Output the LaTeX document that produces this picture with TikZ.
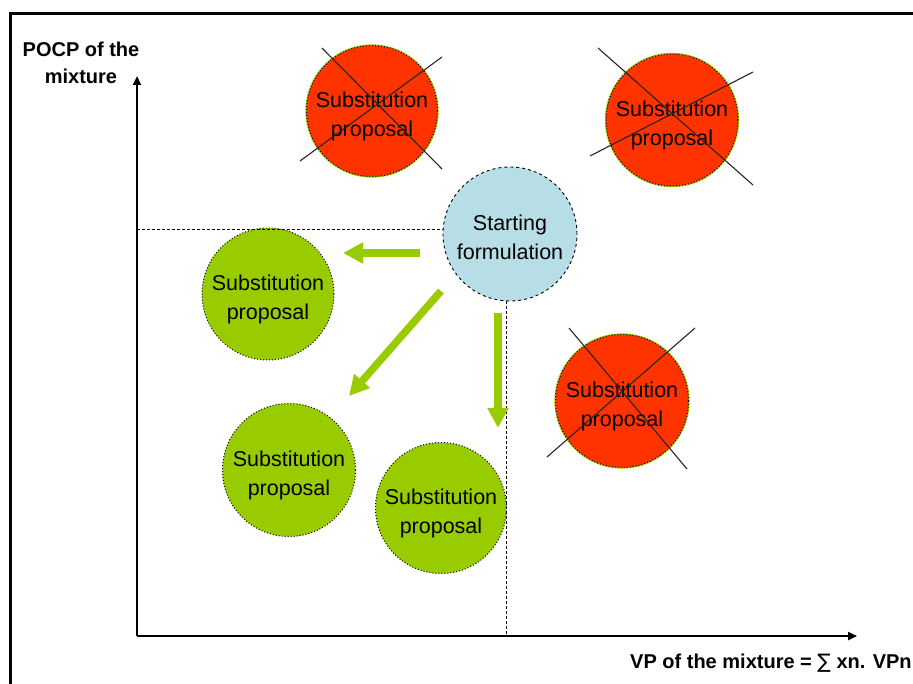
\documentclass[tikz,border=0pt]{standalone}
\usepackage{fontspec}
\setmainfont{Liberation Sans}
\newfontfamily\djv{DejaVu Sans}
\usetikzlibrary{arrows.meta}
\definecolor{redfill}{RGB}{255,51,0}
\definecolor{limefill}{RGB}{153,204,0}
\definecolor{bluefill}{RGB}{183,222,230}
\tikzset{
  bubbletext/.style={inner sep=0pt, align=center, text=black, yshift=-5pt,
    font=\fontsize{21.5}{29}\selectfont},
  bubble/.style={circle, inner sep=0pt},
  redbubble/.style={bubble, fill=redfill, draw=black, dotted, line width=1pt,
    preaction={draw=limefill, solid, line width=2.2pt}},
  greenbubble/.style={bubble, fill=limefill, draw=black, dotted, line width=1pt},
  startbubble/.style={bubble, fill=bluefill, draw=black, dashed, line width=0.9pt},
  crossline/.style={draw=black!85, line width=1.1pt},
  guide/.style={draw=black, dashed, line width=0.9pt, dash pattern=on 3pt off 2pt},
  axis/.style={draw=black, line width=2.6pt, -{Triangle[length=9pt,width=8pt]}},
  greenarrow/.style={draw=limefill, line width=7.5pt, -{Triangle[length=20pt,width=20pt]}},
  axlabel/.style={font=\fontsize{20}{27}\selectfont\bfseries, align=center, inner sep=0pt},
}
\begin{document}
\begin{tikzpicture}[x=1pt,y=-1pt]
\useasboundingbox (0,0) rectangle (913,684);
% frame
\draw[line width=3pt] (10,684) -- (10,14) -- (913,14);

% axes
\coordinate (origin) at (137,636);
\coordinate (ytip) at (137,76);
\coordinate (xtip) at (857,636);
\draw[axis] (origin) -- (ytip);
\draw[axis] (origin) -- (xtip);

\node[axlabel] (ylab) at (81,63) {POCP of the\\mixture};
\node[axlabel, anchor=west] (xlab) at (630,663) {VP of the mixture = {\djv\mdseries ∑} xn. VPn};

% bubbles
\node[startbubble, minimum size=134pt,
  label={[bubbletext, yshift=2pt]center:Starting\\formulation}] (start) at (510,234) {};
\node[greenbubble, minimum size=132pt,
  label={[bubbletext]center:Substitution\\proposal}] (g1) at (268,294) {};
\node[greenbubble, minimum size=133pt,
  label={[bubbletext]center:Substitution\\proposal}] (g2) at (289,470) {};
\node[greenbubble, minimum size=131pt,
  label={[bubbletext]center:Substitution\\proposal}] (g3) at (441,508) {};
\node[redbubble, minimum size=131pt,
  label={[bubbletext]center:Substitution\\proposal}] (r1) at (372,111) {};
\node[redbubble, minimum size=132pt,
  label={[bubbletext]center:Substitution\\proposal}] (r2) at (672,120) {};
\node[redbubble, minimum size=133pt,
  label={[bubbletext]center:Substitution\\proposal}] (r3) at (622,401) {};

% guides
\coordinate (hg) at (start.west |- 0,229);
\draw[guide] (origin |- hg) -- (hg);
\coordinate (vg) at (506,636);
\draw[guide] (start.south -| vg) -- (vg);

% green arrows
\coordinate (a1s) at (420,253);
\coordinate (a1e) at (343,253);
\coordinate (a2s) at (441,291);
\coordinate (a2e) at (349,396);
\coordinate (a3s) at (498,313);
\coordinate (a3e) at (498,428);
\draw[greenarrow] (a1s) -- (a1e);
\draw[greenarrow] (a2s) -- (a2e);
\draw[greenarrow] (a3s) -- (a3e);

% crosses
\coordinate (c1a) at (322,48);  \coordinate (c1b) at (442,169);
\coordinate (c1c) at (300,161); \coordinate (c1d) at (442,57);
\coordinate (c2a) at (598,48);  \coordinate (c2b) at (753,185);
\coordinate (c2c) at (590,156); \coordinate (c2d) at (753,72);
\coordinate (c3a) at (569,328); \coordinate (c3b) at (687,469);
\coordinate (c3c) at (547,457); \coordinate (c3d) at (695,328);
\draw[crossline] (c1a) -- (c1b) (c1c) -- (c1d);
\draw[crossline] (c2a) -- (c2b) (c2c) -- (c2d);
\draw[crossline] (c3a) -- (c3b) (c3c) -- (c3d);
\end{tikzpicture}
\end{document}
